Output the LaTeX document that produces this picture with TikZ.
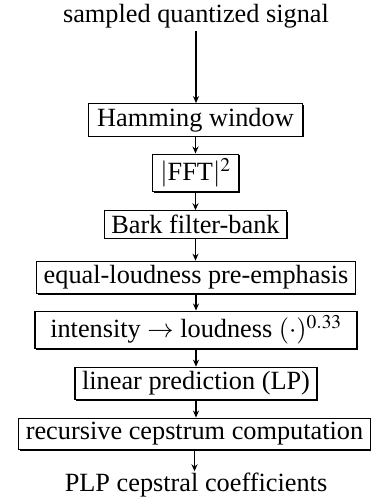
\documentclass[tikz,border=0pt]{standalone}
\usepackage{mathptmx}
\usepackage{fontspec}
\setmainfont{Liberation Serif}
\usetikzlibrary{arrows.meta,shadows}

\begin{document}
\begin{tikzpicture}[x=1pt,y=1pt,
  font=\fontsize{26.3}{31}\selectfont,
  box/.style={draw, line width=1.2pt, fill=white, inner xsep=7pt, inner ysep=4.3pt,
    drop shadow={shadow xshift=1.2pt, shadow yshift=-1.2pt, fill=black, opacity=1}},
  label/.style={inner sep=2pt},
  flow/.style={-{Stealth[length=7pt,width=6pt]}, line width=1.5pt}]
  \useasboundingbox (0,0) rectangle (375,502);
  % signal in
  \node[label,anchor=base] (input) at (196,479){sampled quantized signal};
  % processing chain
  \node[box,minimum width=214pt] (hamming) at (195.5,382){Hamming window};
  \node[box,minimum width=86pt] (fft) at (195.5,329){$|$FFT$|^2$};
  \node[box] (bark) at (195.5,277.5){Bark filter-bank};
  \node[box] (equal) at (196,224.5){equal-loudness pre-emphasis};
  \node[box,minimum width=322pt] (power) at (196,172){intensity $\rightarrow$ loudness $(\cdot)^{0.33}$};
  \node[box] (lp) at (196,118.5){linear prediction (LP)};
  \node[box] (cepstrum) at (194.5,68){recursive cepstrum computation};
  % features out
  \node[label,anchor=base] (plp) at (196,10){PLP cepstral coefficients};
  \draw[flow] (input) -- (input |- hamming.north);
  \draw[flow] (hamming) -- (hamming |- fft.north);
  \draw[flow] (fft) -- (fft |- bark.north);
  \draw[flow] (bark) -- (bark |- equal.north);
  \draw[flow] (equal) -- (equal |- power.north);
  \draw[flow] (power) -- (power |- lp.north);
  \draw[flow] (lp) -- (lp |- cepstrum.north);
  \draw[flow] (cepstrum) -- (cepstrum |- plp.north);
\end{tikzpicture}
\end{document}
